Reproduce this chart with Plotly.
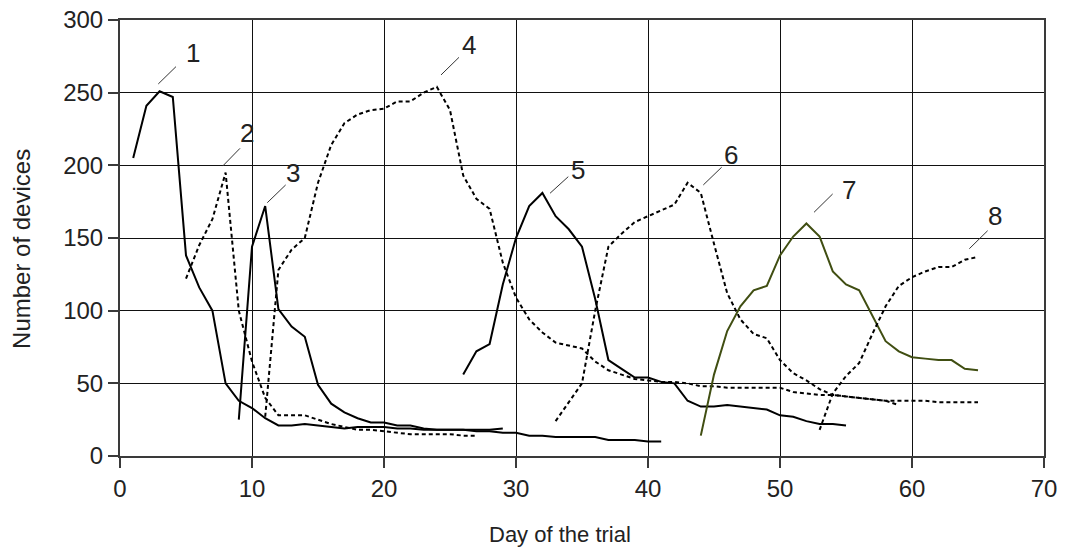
import plotly.graph_objects as go

# ---- data ----
curve_names = ["1", "2", "3", "4", "5", "6", "7", "8"]
start_days = [1, 5, 9, 11, 26, 33, 44, 53]

devices_1 = [205, 241, 251, 247, 138, 116, 100, 50, 38, 33, 26, 21, 21, 22, 21, 20, 19, 20, 20, 20,
             19, 19, 18, 18, 18, 18, 17, 17, 16, 16, 14, 14, 13, 13, 13, 13, 11, 11, 11, 10, 10]
devices_2 = [122, 145, 163, 195, 100, 65, 40, 28, 28, 28, 25, 22, 20, 18, 18, 17, 16, 15, 15, 15,
             15, 14, 14]
devices_3 = [25, 144, 172, 101, 89, 82, 49, 36, 30, 26, 23, 23, 21, 21, 19, 18, 18, 18, 18, 18, 19]
devices_4 = [27, 128, 142, 150, 188, 214, 229, 235, 238, 239, 244, 244, 250, 254, 238, 193, 177, 170,
             133, 109, 94, 85, 78, 76, 74, 65, 59, 56, 53, 52, 51, 51, 50, 48, 48, 47, 47, 47, 47,
             47, 44, 43, 42, 42, 41, 40, 39, 38, 38, 38, 38, 37, 37, 37, 37]
devices_5 = [56, 72, 77, 118, 150, 172, 181, 165, 156, 144, 108, 66, 60, 54, 54, 51, 50, 38, 34, 34,
             35, 34, 33, 32, 28, 27, 24, 22, 22, 21]
devices_6 = [24, 37, 50, 100, 144, 153, 161, 165, 169, 173, 188, 181, 146, 112, 94, 84, 81, 66, 57,
             52, 46, 42, 41, 40, 39, 38, 35]
devices_7 = [14, 56, 86, 103, 114, 117, 138, 151, 160, 151, 127, 118, 114, 96, 79, 72, 68, 67, 66,
             66, 60, 59]
devices_8 = [18, 43, 55, 64, 84, 103, 117, 123, 127, 130, 130, 135, 137]

series_values = [devices_1, devices_2, devices_3, devices_4,
                 devices_5, devices_6, devices_7, devices_8]
line_styles = ["solid", "4px,3px", "solid", "4px,3px", "solid", "4px,3px", "solid", "4px,3px"]
line_colors = ["#000000", "#000000", "#000000", "#000000", "#000000", "#000000", "#404e12", "#000000"]

# curve number labels: text position and leader line (data units)
label_x = [5.55, 9.60, 13.13, 26.44, 34.72, 46.27, 55.25, 66.29]
label_y = [277.1, 222.0, 194.5, 282.8, 196.8, 207.1, 183.0, 165.1]
leader_x0 = [2.90, 7.78, 11.16, 24.32, 32.58, 44.19, 52.58, 64.34]
leader_y0 = [256.0, 199.5, 174.3, 262.2, 180.8, 186.5, 167.7, 142.6]
leader_x1 = [4.24, 9.09, 12.55, 25.68, 33.96, 45.58, 53.99, 65.73]
leader_y1 = [267.9, 211.7, 186.5, 274.3, 192.2, 198.7, 180.3, 155.0]

x_ticks = [0, 10, 20, 30, 40, 50, 60, 70]
y_ticks = [0, 50, 100, 150, 200, 250, 300]
x_title = "Day of the trial"
y_title = "Number of devices"

FONT = "Liberation Sans, Arial, sans-serif"
TXT = "#222222"

fig = go.Figure()
for name, start, vals, dash, color in zip(curve_names, start_days, series_values,
                                          line_styles, line_colors):
    days = list(range(start, start + len(vals)))
    fig.add_trace(go.Scatter(
        x=days, y=vals, mode="lines", name=name,
        line=dict(color=color, width=2, dash=dash),
        showlegend=False,
    ))

for i, name in enumerate(curve_names):
    fig.add_annotation(x=label_x[i], y=label_y[i], text=name, showarrow=False,
                       font=dict(family=FONT, size=26, color=TXT),
                       xanchor="center", yanchor="middle")
    fig.add_shape(type="line", xref="x", yref="y",
                  x0=leader_x0[i], y0=leader_y0[i], x1=leader_x1[i], y1=leader_y1[i],
                  line=dict(color="#333333", width=1))

# axis titles (placed as in the reference, slightly off-centre)
fig.add_annotation(xref="paper", yref="paper", x=0.476, y=-0.181, text=x_title,
                   showarrow=False, xanchor="center", yanchor="middle",
                   font=dict(family=FONT, size=22, color=TXT))
fig.add_annotation(xref="paper", yref="paper", x=-0.106, y=0.475, text=y_title,
                   showarrow=False, xanchor="center", yanchor="middle", textangle=-90,
                   font=dict(family=FONT, size=24, color=TXT))

fig.update_layout(
    width=1066, height=547,
    margin=dict(l=120, r=22, t=20, b=91, autoexpand=False),
    paper_bgcolor="white", plot_bgcolor="white",
    font=dict(family=FONT, color=TXT),
)
fig.update_xaxes(
    range=[0, 70], tickvals=x_ticks, ticktext=[str(v) for v in x_ticks],
    showgrid=True, gridcolor="#111111", gridwidth=1,
    showline=True, linecolor="#3a3a3a", linewidth=2, mirror=True,
    ticks="outside", ticklen=10, tickwidth=1.5, tickcolor="#3a3a3a",
    tickfont=dict(family=FONT, size=24, color=TXT),
    zeroline=False, automargin=False, ticklabeloverflow="allow",
)
fig.update_yaxes(
    range=[0, 300], tickvals=y_ticks, ticktext=[str(v) for v in y_ticks],
    showgrid=True, gridcolor="#111111", gridwidth=1,
    showline=True, linecolor="#3a3a3a", linewidth=2, mirror=True,
    ticks="outside", ticklen=10, tickwidth=1.5, tickcolor="#3a3a3a",
    tickfont=dict(family=FONT, size=24, color=TXT),
    zeroline=False, automargin=False, ticklabeloverflow="allow",
)

# remove the default page margin so the figure fills the window exactly
fig.write_html("out.html",
               config={"displayModeBar": False},
               post_script="document.body.style.margin='0';document.body.style.padding='0';")
